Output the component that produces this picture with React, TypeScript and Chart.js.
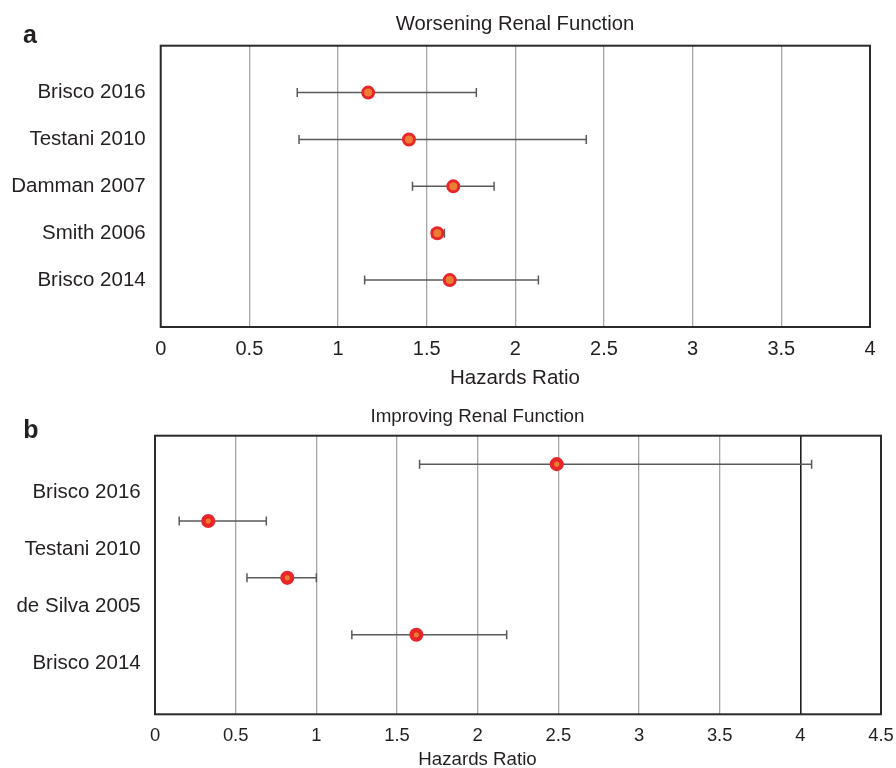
import React, { useEffect, useRef } from "react";
import { Chart, registerables } from "chart.js";

Chart.register(...registerables);

// ---------- Panel a: Worsening Renal Function ----------
const studiesA = ["Brisco 2016", "Testani 2010", "Damman 2007", "Smith 2006", "Brisco 2014"];
const rowsA = [1, 2, 3, 4, 5];
const hrA = [1.17, 1.4, 1.65, 1.56, 1.63];
const lowA = [0.77, 0.78, 1.42, 1.53, 1.15];
const highA = [1.78, 2.4, 1.88, 1.6, 2.13];
const xTicksA = [0, 0.5, 1, 1.5, 2, 2.5, 3, 3.5, 4];

// ---------- Panel b: Improving Renal Function ----------
const studiesB = ["Brisco 2016", "Testani 2010", "de Silva 2005", "Brisco 2014"];
const labelRowsB = [1, 2, 3, 4];
const pointRowsB = [0.5, 1.5, 2.5, 3.5];
const hrB = [2.49, 0.33, 0.82, 1.62];
const lowB = [1.64, 0.15, 0.57, 1.22];
const highB = [4.07, 0.69, 1.0, 2.18];
const xTicksB = [0, 0.5, 1, 1.5, 2, 2.5, 3, 3.5, 4, 4.5];

const FONT = "'Liberation Sans', Arial, Helvetica, sans-serif";
const TEXT = "#231f20";
const GRID = "#a6a6a6";
const BAR = "#5a5a5a";
const RED = "#e8262a";
const ORANGE = "#ec7d35";

type TextItem = { text: string; x: number; y: number; size: number; bold?: boolean };

function textPlugin(items: TextItem[]) {
  return {
    id: "panelText",
    afterDraw(chart: any) {
      const ctx = chart.ctx;
      items.forEach((it) => {
        ctx.save();
        ctx.font = `${it.bold ? "bold " : ""}${it.size}px ${FONT}`;
        ctx.fillStyle = TEXT;
        ctx.textAlign = "center";
        ctx.textBaseline = "middle";
        ctx.fillText(it.text, it.x, it.y);
        ctx.restore();
      });
    },
  };
}

const framePlugin = {
  id: "frame",
  beforeDatasetsDraw(chart: any) {
    const { ctx, chartArea } = chart;
    ctx.save();
    ctx.strokeStyle = "#2a2a2a";
    ctx.lineWidth = 2;
    ctx.strokeRect(chartArea.left, chartArea.top, chartArea.right - chartArea.left, chartArea.bottom - chartArea.top);
    ctx.restore();
  },
};

type PanelCfg = {
  labels: string[];
  labelRows: number[];
  pointRows: number[];
  hr: number[];
  low: number[];
  high: number[];
  xTicks: number[];
  xMax: number;
  yMax: number;
  yWidth: number;
  xHeight: number;
  padTop: number;
  padRight: number;
  xTickSize: number;
  xTickPad: number;
  yTickPad: number;
  darkAt: number | null;
  pointRadius: number;
  pointBorder: number;
  texts: TextItem[];
};

function buildConfig(p: PanelCfg): any {
  const datasets: any[] = [];
  datasets.push({
    label: "HR",
    data: p.hr.map((v, i) => ({ x: v, y: p.pointRows[i] })),
    backgroundColor: ORANGE,
    borderColor: RED,
    pointRadius: p.pointRadius,
    pointBorderWidth: p.pointBorder,
    order: 0,
  });
  p.hr.forEach((_, i) => {
    datasets.push({
      label: "CI " + i,
      data: [
        { x: p.low[i], y: p.pointRows[i] },
        { x: p.high[i], y: p.pointRows[i] },
      ],
      showLine: true,
      borderColor: BAR,
      borderWidth: 1.5,
      pointStyle: "line",
      pointRotation: 90,
      pointRadius: 4.5,
      pointBorderColor: BAR,
      pointBorderWidth: 1.5,
      order: 1,
    });
  });
  return {
    type: "scatter",
    data: { datasets },
    options: {
      responsive: false,
      animation: false,
      events: [],
      layout: { padding: { top: p.padTop, right: p.padRight, left: 0, bottom: 0 } },
      plugins: { legend: { display: false }, tooltip: { enabled: false }, title: { display: false } },
      scales: {
        x: {
          type: "linear",
          min: 0,
          max: p.xMax,
          afterBuildTicks: (s: any) => {
            s.ticks = p.xTicks.map((v) => ({ value: v }));
          },
          afterFit: (s: any) => {
            s.height = p.xHeight;
            s.paddingLeft = 0;
            s.paddingRight = 0;
          },
          ticks: {
            font: { family: FONT, size: p.xTickSize },
            color: TEXT,
            padding: p.xTickPad,
            maxRotation: 0,
            autoSkip: false,
            callback: (v: any) => String(v),
          },
          grid: {
            drawTicks: false,
            color: (c: any) => (p.darkAt !== null && c.tick && c.tick.value === p.darkAt ? "#1e1e1e" : GRID),
            lineWidth: (c: any) => (p.darkAt !== null && c.tick && c.tick.value === p.darkAt ? 1.6 : 1.3),
          },
          border: { display: false },
        },
        y: {
          type: "linear",
          min: 0,
          max: p.yMax,
          reverse: true,
          afterBuildTicks: (s: any) => {
            s.ticks = p.labelRows.map((v) => ({ value: v }));
          },
          afterFit: (s: any) => {
            s.width = p.yWidth;
            s.paddingTop = 0;
            s.paddingBottom = 0;
          },
          ticks: {
            font: { family: FONT, size: 20.5 },
            color: TEXT,
            padding: p.yTickPad,
            autoSkip: false,
            callback: (v: any) => {
              const idx = p.labelRows.indexOf(Number(v));
              return idx >= 0 ? p.labels[idx] : "";
            },
          },
          grid: { display: false, drawTicks: false },
          border: { display: false },
        },
      },
    },
    plugins: [framePlugin, textPlugin(p.texts)],
  };
}

function Panel({ cfg, width, height, top }: { cfg: PanelCfg; width: number; height: number; top: number }) {
  const ref = useRef<HTMLCanvasElement | null>(null);
  useEffect(() => {
    if (!ref.current) return;
    const chart = new Chart(ref.current, buildConfig(cfg));
    return () => chart.destroy();
  }, []);
  return (
    <canvas
      ref={ref}
      width={width}
      height={height}
      style={{ position: "absolute", left: 0, top, width, height, display: "block" }}
    />
  );
}

const panelA: PanelCfg = {
  labels: studiesA,
  labelRows: rowsA,
  pointRows: rowsA,
  hr: hrA,
  low: lowA,
  high: highA,
  xTicks: xTicksA,
  xMax: 4,
  yMax: 6,
  yWidth: 160.7,
  xHeight: 73,
  padTop: 45.7,
  padRight: 26,
  xTickSize: 20,
  xTickPad: 10.7,
  yTickPad: 15,
  darkAt: null,
  pointRadius: 5.5,
  pointBorder: 3,
  texts: [
    { text: "a", x: 30, y: 36, size: 25, bold: true },
    { text: "Worsening Renal Function", x: 515, y: 24, size: 20.3 },
    { text: "Hazards Ratio", x: 515, y: 378, size: 20.5 },
  ],
};

const panelB: PanelCfg = {
  labels: studiesB,
  labelRows: labelRowsB,
  pointRows: pointRowsB,
  hr: hrB,
  low: lowB,
  high: highB,
  xTicks: xTicksB,
  xMax: 4.5,
  yMax: 4.9,
  yWidth: 155,
  xHeight: 53.7,
  padTop: 35.7,
  padRight: 15,
  xTickSize: 18.4,
  xTickPad: 10.5,
  yTickPad: 14.3,
  darkAt: 4,
  pointRadius: 4.8,
  pointBorder: 4.5,
  texts: [
    { text: "b", x: 31, y: 31, size: 25, bold: true },
    { text: "Improving Renal Function", x: 477.5, y: 16.7, size: 18.8 },
    { text: "Hazards Ratio", x: 477.5, y: 360, size: 18.7 },
  ],
};

export default function App() {
  return (
    <div style={{ position: "absolute", left: 0, top: 0, width: 896, height: 768, background: "#fff" }}>
      <Panel cfg={panelA} width={896} height={400} top={0} />
      <Panel cfg={panelB} width={896} height={368} top={400} />
    </div>
  );
}
